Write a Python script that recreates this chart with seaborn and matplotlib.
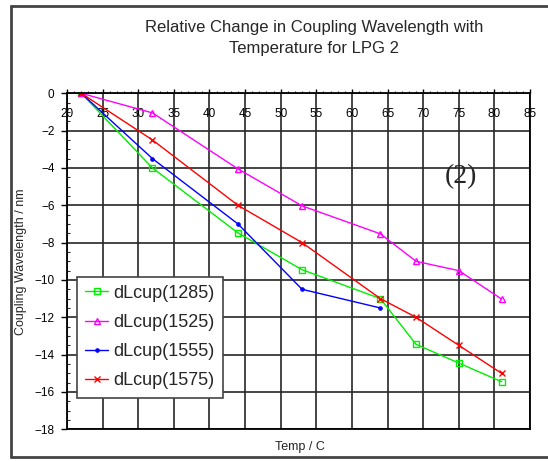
import matplotlib
matplotlib.use("Agg")
import matplotlib.pyplot as plt
from matplotlib.lines import Line2D
from matplotlib.ticker import MultipleLocator
import numpy as np
import pandas as pd
import seaborn as sns

# ---- data ----
temp_long = [22, 32, 44, 53, 64, 69, 75, 81]
temp_short = [22, 32, 44, 53, 64]
dl_1285 = [0, -4.0, -7.48, -9.45, -11.0, -13.45, -14.45, -15.45]
dl_1525 = [0, -1.05, -4.05, -6.03, -7.53, -9.0, -9.5, -11.02]
dl_1555 = [0, -3.5, -7.0, -10.5, -11.5]
dl_1575 = [0, -2.5, -6.0, -8.0, -11.0, -12.0, -13.5, -15.0]
series_names = ["dLcup(1285)", "dLcup(1525)", "dLcup(1555)", "dLcup(1575)"]
x_ticks = list(range(20, 86, 5))
y_ticks = list(range(0, -19, -2))

title_text = "Relative Change in Coupling Wavelength with\nTemperature for LPG 2"
x_label = "Temp / C"
y_label = "Coupling Wavelength / nm"
annotation = "(2)"

series_data = [
    (series_names[0], temp_long, dl_1285),
    (series_names[1], temp_long, dl_1525),
    (series_names[2], temp_short, dl_1555),
    (series_names[3], temp_long, dl_1575),
]
frames = [pd.DataFrame({"Temp": t, "dL": v, "series": n}) for n, t, v in series_data]
df = pd.concat(frames, ignore_index=True)

styles = {
    series_names[0]: dict(color="#00ee00", marker="s", ms=4, mfc="none", mew=1.0),
    series_names[1]: dict(color="#ff00ff", marker="^", ms=5, mfc="none", mew=1.0),
    series_names[2]: dict(color="#0000ff", marker="o", ms=2.5, mfc="#0000ff", mew=0.8),
    series_names[3]: dict(color="#ff0000", marker="x", ms=4, mew=1.0),
}

# ---- styling ----
sns.set_theme(style="white")
plt.rcParams["font.family"] = ["Liberation Sans", "DejaVu Sans"]

W, H = 548, 461
fig = plt.figure(figsize=(W / 100, H / 100), dpi=100)
fig.patch.set_facecolor("white")

L, R, T, B = 67, 530, 93.3, 429.3
ax = fig.add_axes([L / W, 1 - B / H, (R - L) / W, (B - T) / H])
ax.set_facecolor("white")

for name in series_names:
    sub = df[df["series"] == name]
    st = styles[name]
    sns.lineplot(data=sub, x="Temp", y="dL", ax=ax, sort=False, label=name,
                 color=st["color"], marker=st["marker"], markersize=st["ms"],
                 markerfacecolor=st["mfc"] if "mfc" in st else st["color"],
                 markeredgecolor=st["color"], markeredgewidth=st["mew"],
                 linewidth=1.0, estimator=None)

ax.set_xlim(20, 85)
ax.set_ylim(-18, 0)
ax.set_xticks(x_ticks)
ax.set_yticks(y_ticks)
ax.xaxis.set_minor_locator(MultipleLocator(1))
ax.yaxis.set_minor_locator(MultipleLocator(0.5))

ax.xaxis.tick_top()
ax.tick_params(axis="x", which="major", direction="out", length=3, width=1,
               labelsize=8.5, pad=-22.5, top=True, bottom=False,
               labeltop=True, labelbottom=False, colors="black")
ax.tick_params(axis="x", which="minor", direction="out", length=1.6, width=0.8,
               top=True, bottom=False)
ax.tick_params(axis="y", which="major", direction="out", length=4, width=1,
               labelsize=8.5, pad=5, left=True, right=False, colors="black")
ax.tick_params(axis="y", which="minor", direction="in", length=2.2, width=0.8,
               left=True, right=False)

ax.grid(which="major", color="#262626", linewidth=1.2)
ax.set_axisbelow(True)
for sp in ax.spines.values():
    sp.set_visible(True)
    sp.set_color("black")
    sp.set_linewidth(1.3)

ax.set_xlabel(x_label, fontsize=9)
ax.xaxis.set_label_position("bottom")
ax.xaxis.set_label_coords((300 - L) / (R - L), (B - 441) / (B - T))
ax.set_ylabel(y_label, fontsize=9)
ax.yaxis.set_label_coords((27 - L) / (R - L), 0.5)

ax.text(75.3, -4.47, annotation, fontsize=20, family=["Liberation Serif", "DejaVu Serif"],
        ha="center", va="center")

leg = ax.legend(loc="upper left", bbox_to_anchor=((77.3 - L) / (R - L), (B - 276.5) / (B - T)),
                borderaxespad=0, fontsize=13, frameon=True, fancybox=False,
                handlelength=1.25, handletextpad=0.3, labelspacing=0.68,
                borderpad=0.45, framealpha=1, edgecolor="#444444")
leg.get_frame().set_linewidth(1.2)
for line in leg.get_lines():
    line.set_linewidth(1.0)

fig.text(314 / W, 1 - 38 / H, title_text, ha="center", va="center",
         fontsize=12, linespacing=1.5)

# outer border
border_kw = dict(transform=fig.transFigure, color="#444444", linewidth=2)
fig.add_artist(Line2D([11 / W, 1], [1 - 6 / H, 1 - 6 / H], **border_kw))
fig.add_artist(Line2D([11 / W, 11 / W], [1 - 6 / H, 1 - 457 / H], **border_kw))
fig.add_artist(Line2D([11 / W, 1], [1 - 457 / H, 1 - 457 / H], **border_kw))

fig.savefig("out.png", dpi=100)
